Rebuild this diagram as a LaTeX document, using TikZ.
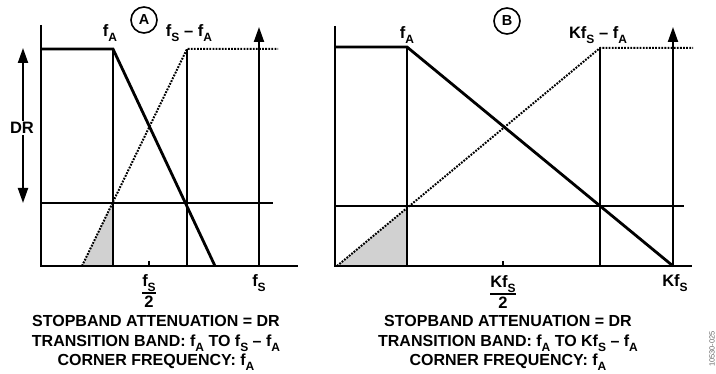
\documentclass[tikz,border=0pt]{standalone}
\usepackage{fontspec}
\setmainfont{Liberation Sans}
\usetikzlibrary{arrows.meta}
\newcommand\lsub[1]{\raisebox{-0.32em}{\fontsize{12}{12}\selectfont #1}}
\setlength\arrayrulewidth{1.8pt}
\begin{document}
\begin{tikzpicture}[x=1pt,y=-1pt,
  lbl/.style={font=\fontsize{16.5}{18}\selectfont\bfseries, inner sep=0pt},
  captext/.style={font=\fontsize{16}{19.5}\selectfont\bfseries, align=center, inner sep=0pt},
  axisline/.style={line width=2.2pt},
  thickline/.style={line width=2.8pt, line join=miter},
  thinline/.style={line width=1.2pt},
  dotline/.style={line width=2pt, dash pattern=on 1.8pt off 1.3pt},
  uparrow/.style={line width=2pt, -{Triangle[length=15pt,width=10pt]}},
  drarrow/.style={line width=2pt, {Triangle[length=15pt,width=10pt]}-{Triangle[length=15pt,width=10pt]}},
  shadefill/.style={fill=black!18},
  circ/.style={circle, draw, line width=1.6pt, minimum size=26pt, inner sep=0pt, font=\fontsize{14.5}{14.5}\selectfont\bfseries},
  tickmark/.style={line width=1.4pt}
]
\useasboundingbox (0,0) rectangle (716,374);
% ---------------- Panel A ----------------
\coordinate (aTop) at (41,25);
\coordinate (aO) at (41,266);
\coordinate (aXend) at (298,266);
\coordinate (aPass) at (41,49);
\coordinate (aFA) at (113,49);
\coordinate (aFAb) at (113,266);
\coordinate (aEnd) at (215,266);
\coordinate (aDs) at (82,266);
\coordinate (aDt) at (187,49);
\coordinate (aDtb) at (187,266);
\coordinate (aDe) at (278,49);
\coordinate (aHl) at (41,203);
\coordinate (aHr) at (273,203);
\coordinate (aHx) at (113,202);
\coordinate (aArB) at (259,266);
\coordinate (aArT) at (259,27);
\coordinate (aTk1) at (149,261);
\coordinate (aTk2) at (149,266);
\coordinate (aDR1) at (23,203);
\coordinate (aDR2) at (23,48);

\fill[shadefill] (aDs) -- (aHx) -- (aFAb) -- cycle;
\draw[thinline] (aFA) -- (aFAb);
\draw[thinline] (aDt) -- (aDtb);
\draw[thinline] (aHl) -- (aHr);
\draw[dotline] (aDs) -- (aDt) -- (aDe);
\draw[thickline] (aPass) -- (aFA) -- (aEnd);
\draw[axisline] (aTop) -- (aO) -- (aXend);
\draw[uparrow] (aArB) -- (aArT);
\draw[tickmark] (aTk1) -- (aTk2);
\draw[drarrow] (aDR1) -- (aDR2);
\node[lbl, fill=white, inner sep=1pt] (aDRl) at (22,128) {DR};
\node[circ] (aCirc) at (144,20) {A};
\node[lbl] (aFAl) at (110,33) {f\lsub{A}};
\node[lbl] (aFSFAl) at (189,33) {f\lsub{S} – f\lsub{A}};
\node[lbl] (aHalf) at (149,293) {\renewcommand\arraystretch{1.05}\begin{tabular}{@{}c@{}}f\lsub{S}\\\hline 2\end{tabular}};
\node[lbl] (aFS) at (259,283) {f\lsub{S}};
\node[captext] (aCap) at (156,343) {STOPBAND ATTENUATION = DR\\TRANSITION BAND: f\lsub{A} TO f\lsub{S} – f\lsub{A}\\CORNER FREQUENCY: f\lsub{A}};

% ---------------- Panel B ----------------
\coordinate (bTop) at (335,26);
\coordinate (bO) at (335,266);
\coordinate (bXend) at (692,266);
\coordinate (bPass) at (335,47);
\coordinate (bFA) at (407,47);
\coordinate (bFAb) at (407,266);
\coordinate (bEnd) at (673,266);
\coordinate (bDs) at (337,266);
\coordinate (bDt) at (600,48);
\coordinate (bDtb) at (600,266);
\coordinate (bDe) at (693,48);
\coordinate (bHl) at (335,206);
\coordinate (bHr) at (684,206);
\coordinate (bHx) at (407,208);
\coordinate (bArB) at (673,266);
\coordinate (bArT) at (673,27);
\coordinate (bTk1) at (503,261);
\coordinate (bTk2) at (503,266);

\fill[shadefill] (bDs) -- (bHx) -- (bFAb) -- cycle;
\draw[thinline] (bFA) -- (bFAb);
\draw[thinline] (bDt) -- (bDtb);
\draw[thinline] (bHl) -- (bHr);
\draw[dotline] (bDs) -- (bDt) -- (bDe);
\draw[thickline] (bPass) -- (bFA) -- (bEnd);
\draw[axisline] (bTop) -- (bO) -- (bXend);
\draw[uparrow] (bArB) -- (bArT);
\draw[tickmark] (bTk1) -- (bTk2);
\node[circ] (bCirc) at (507,21) {B};
\node[lbl] (bFAl) at (407,35) {f\lsub{A}};
\node[lbl] (bKFSFAl) at (598,35) {Kf\lsub{S} – f\lsub{A}};
\node[lbl] (bHalf) at (503,294) {\renewcommand\arraystretch{1.05}\begin{tabular}{@{}c@{}}Kf\lsub{S}\\\hline 2\end{tabular}};
\node[lbl] (bKFS) at (675,283) {Kf\lsub{S}};
\node[captext] (bCap) at (508,343) {STOPBAND ATTENUATION = DR\\TRANSITION BAND: f\lsub{A} TO Kf\lsub{S} – f\lsub{A}\\CORNER FREQUENCY: f\lsub{A}};

\node[rotate=90, font=\fontsize{7.5}{7.5}\selectfont, text=black!60, inner sep=0pt] (code) at (712,349) {10530-025};
\end{tikzpicture}
\end{document}
